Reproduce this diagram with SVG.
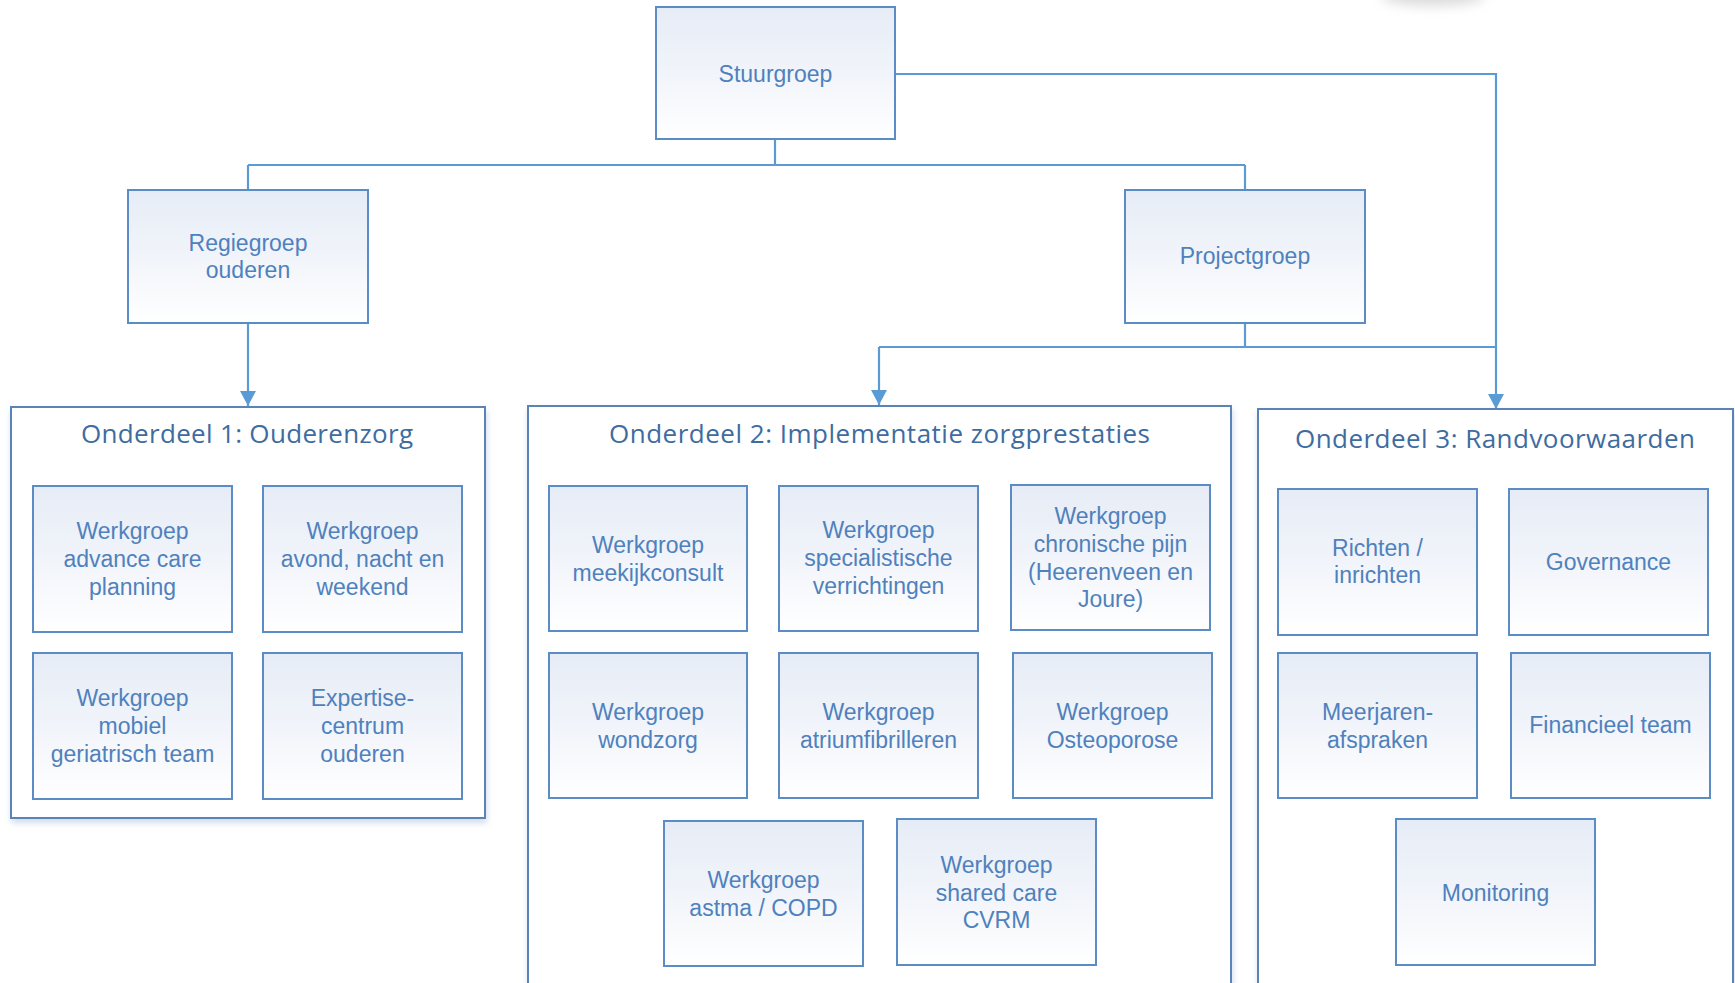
<svg xmlns="http://www.w3.org/2000/svg" width="1735" height="983" viewBox="0 0 1735 983">
<defs>
<linearGradient id="g" x1="0" y1="0" x2="0" y2="1">
<stop offset="0" stop-color="#E6ECF6"/>
<stop offset="0.5" stop-color="#F1F4FA"/>
<stop offset="1" stop-color="#FFFFFF"/>
</linearGradient>
<filter id="sh" x="-5%" y="-5%" width="112%" height="115%">
<feDropShadow dx="1" dy="4" stdDeviation="3" flood-color="#7A9CC6" flood-opacity="0.35"/>
</filter>
<filter id="blur" x="-50%" y="-200%" width="200%" height="500%">
<feGaussianBlur stdDeviation="6"/>
</filter>
<marker id="arr" markerUnits="userSpaceOnUse" markerWidth="15" markerHeight="16" viewBox="0 0 15 16" refX="15" refY="8" orient="auto">
<path d="M0,0 L15,8 L0,16 Z" fill="#5B9BD5"/>
</marker>
<style>
.box{fill:url(#g);stroke:#5B8CC6;stroke-width:2}
.cont{fill:#FFFFFF;stroke:#5A84B8;stroke-width:2;filter:url(#sh)}
.t{font-family:"Liberation Sans",Arial,sans-serif;font-size:23px;fill:#4F81BD;text-anchor:middle}
.h{font-family:"Open Sans","Noto Sans",sans-serif;font-size:26px;fill:#3E6C9F;text-anchor:middle}
.c{fill:none;stroke:#5B9BD5;stroke-width:2.2}
</style>
</defs>
<rect width="1735" height="983" fill="#FFFFFF"/>
<ellipse cx="1433" cy="-4" rx="52" ry="10" fill="#9A9A9A" opacity="0.35" filter="url(#blur)"/>

<g id="connectors">
<path class="c" d="M775,140 V165 M248,165 H1245 M248,165 V190 M1245,165 V190"/>
<path class="c" d="M248,323 V406" marker-end="url(#arr)"/>
<path class="c" d="M1245,323 V347 M879,347 H1496"/>
<path class="c" d="M879,347 V405" marker-end="url(#arr)"/>
<path class="c" d="M895,74 H1496 V409" marker-end="url(#arr)"/>
</g>

<g id="stuurgroep"><rect class="box" x="656" y="7" width="239" height="132"/><text class="t" x="775.5" y="82">Stuurgroep</text></g>
<g id="regiegroep"><rect class="box" x="128" y="190" width="240" height="133"/><text class="t" x="248" y="251">Regiegroep</text><text class="t" x="248" y="278">ouderen</text></g>
<g id="projectgroep"><rect class="box" x="1125" y="190" width="240" height="133"/><text class="t" x="1245" y="264">Projectgroep</text></g>

<g id="onderdeel1">
<rect class="cont" x="11" y="407" width="474" height="411"/>
<text class="h" x="247" y="443" textLength="332">Onderdeel 1: Ouderenzorg</text>
<g id="wg-acp"><rect class="box" x="33" y="486" width="199" height="146"/><text class="t" x="132.5" y="539">Werkgroep</text><text class="t" x="132.5" y="567">advance care</text><text class="t" x="132.5" y="595">planning</text></g>
<g id="wg-anw"><rect class="box" x="263" y="486" width="199" height="146"/><text class="t" x="362.5" y="539">Werkgroep</text><text class="t" x="362.5" y="567">avond, nacht en</text><text class="t" x="362.5" y="595">weekend</text></g>
<g id="wg-mgt"><rect class="box" x="33" y="653" width="199" height="146"/><text class="t" x="132.5" y="706">Werkgroep</text><text class="t" x="132.5" y="734">mobiel</text><text class="t" x="132.5" y="762">geriatrisch team</text></g>
<g id="expertise"><rect class="box" x="263" y="653" width="199" height="146"/><text class="t" x="362.5" y="706">Expertise-</text><text class="t" x="362.5" y="734">centrum</text><text class="t" x="362.5" y="762">ouderen</text></g>
</g>

<g id="onderdeel2">
<rect class="cont" x="528" y="406" width="703" height="620"/>
<text class="h" x="879.5" y="443" textLength="541">Onderdeel 2: Implementatie zorgprestaties</text>
<g id="wg-meekijk"><rect class="box" x="549" y="486" width="198" height="145"/><text class="t" x="648" y="553">Werkgroep</text><text class="t" x="648" y="581">meekijkconsult</text></g>
<g id="wg-spec"><rect class="box" x="779" y="486" width="199" height="145"/><text class="t" x="878.5" y="538">Werkgroep</text><text class="t" x="878.5" y="566">specialistische</text><text class="t" x="878.5" y="594">verrichtingen</text></g>
<g id="wg-pijn"><rect class="box" x="1011" y="485" width="199" height="145"/><text class="t" x="1110.5" y="524">Werkgroep</text><text class="t" x="1110.5" y="552">chronische pijn</text><text class="t" x="1110.5" y="580">(Heerenveen en</text><text class="t" x="1110.5" y="607">Joure)</text></g>
<g id="wg-wond"><rect class="box" x="549" y="653" width="198" height="145"/><text class="t" x="648" y="720">Werkgroep</text><text class="t" x="648" y="748">wondzorg</text></g>
<g id="wg-af"><rect class="box" x="779" y="653" width="199" height="145"/><text class="t" x="878.5" y="720">Werkgroep</text><text class="t" x="878.5" y="748">atriumfibrilleren</text></g>
<g id="wg-osteo"><rect class="box" x="1013" y="653" width="199" height="145"/><text class="t" x="1112.5" y="720">Werkgroep</text><text class="t" x="1112.5" y="748">Osteoporose</text></g>
<g id="wg-copd"><rect class="box" x="664" y="821" width="199" height="145"/><text class="t" x="763.5" y="888">Werkgroep</text><text class="t" x="763.5" y="916">astma / COPD</text></g>
<g id="wg-cvrm"><rect class="box" x="897" y="819" width="199" height="146"/><text class="t" x="996.5" y="873">Werkgroep</text><text class="t" x="996.5" y="901">shared care</text><text class="t" x="996.5" y="928">CVRM</text></g>
</g>

<g id="onderdeel3">
<rect class="cont" x="1258" y="409" width="475" height="620"/>
<text class="h" x="1495" y="448" textLength="400">Onderdeel 3: Randvoorwaarden</text>
<g id="richten"><rect class="box" x="1278" y="489" width="199" height="146"/><text class="t" x="1377.5" y="556">Richten /</text><text class="t" x="1377.5" y="583">inrichten</text></g>
<g id="governance"><rect class="box" x="1509" y="489" width="199" height="146"/><text class="t" x="1608.5" y="570">Governance</text></g>
<g id="meerjaren"><rect class="box" x="1278" y="653" width="199" height="145"/><text class="t" x="1377.5" y="720">Meerjaren-</text><text class="t" x="1377.5" y="748">afspraken</text></g>
<g id="financieel"><rect class="box" x="1511" y="653" width="199" height="145"/><text class="t" x="1610.5" y="733">Financieel team</text></g>
<g id="monitoring"><rect class="box" x="1396" y="819" width="199" height="146"/><text class="t" x="1495.5" y="901">Monitoring</text></g>
</g>
</svg>
